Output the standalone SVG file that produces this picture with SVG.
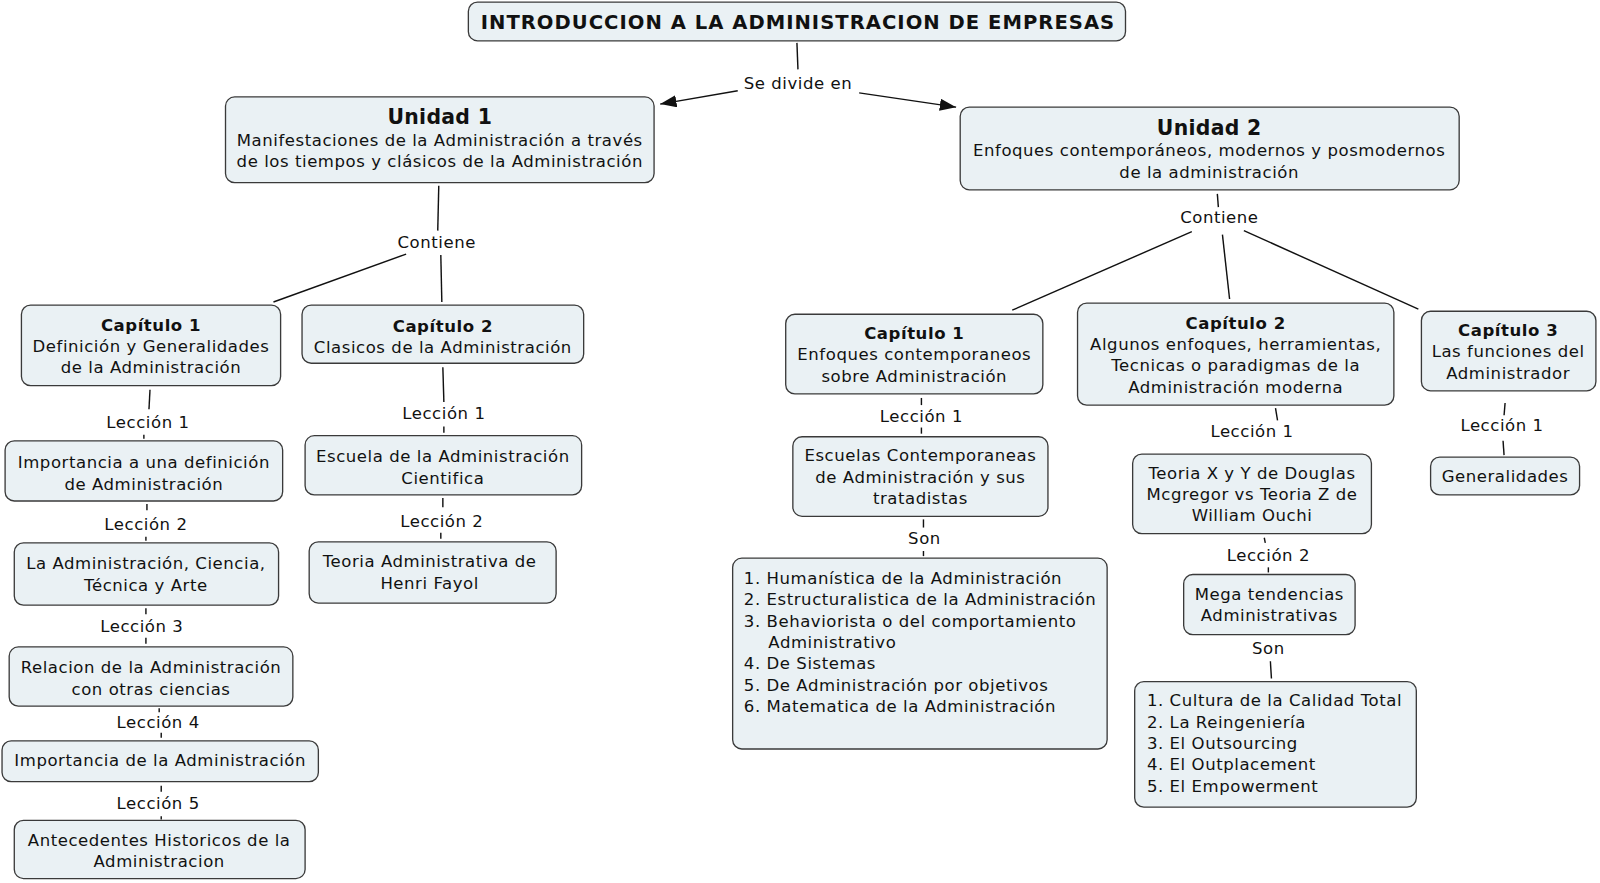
<svg xmlns="http://www.w3.org/2000/svg" width="1600" height="883" viewBox="0 0 1600 883">
<defs>
<style>
.n{fill:#eaf1f4;stroke:#3a3a3a;stroke-width:1.3}
text{font-family:"DejaVu Sans",Verdana,sans-serif;font-size:16.2px;letter-spacing:0.55px;fill:#111}
.c{text-anchor:middle}
.b{font-weight:bold}
.h{font-size:20px;font-weight:bold;letter-spacing:0.3px}
.t{font-size:19.2px;font-weight:bold;letter-spacing:1px}
.l{text-anchor:start}
.e line{stroke:#111;stroke-width:1.4}
</style>
<marker id="ar2" viewBox="0 0 16 12" refX="16" refY="6" markerWidth="16" markerHeight="12" markerUnits="userSpaceOnUse" orient="auto">
<path d="M0,0 L16,6 L0,12 z" fill="#111"/>
</marker>
</defs>
<rect width="1600" height="883" fill="#fff"/>
<g transform="scale(1.0204)">
<g class="e" id="connectors">
<line x1="781" y1="42" x2="782" y2="68"/>
<line x1="723" y1="89" x2="647" y2="102" marker-end="url(#ar2)"/>
<line x1="842" y1="91" x2="937" y2="105" marker-end="url(#ar2)"/>
<line x1="430" y1="182" x2="429" y2="226"/>
<line x1="432" y1="250" x2="433" y2="296"/>
<line x1="398" y1="249" x2="268" y2="296"/>
<line x1="1193" y1="190" x2="1194" y2="203"/>
<line x1="1168" y1="227" x2="992" y2="304"/>
<line x1="1198" y1="230" x2="1205" y2="293"/>
<line x1="1219" y1="226" x2="1390" y2="303"/>
<line x1="147" y1="382" x2="146" y2="401"/>
<line x1="141" y1="426" x2="141" y2="430"/>
<line x1="144" y1="494" x2="144" y2="500"/>
<line x1="143" y1="526" x2="143" y2="530"/>
<line x1="143" y1="596" x2="143" y2="602"/>
<line x1="143" y1="625" x2="143" y2="631"/>
<line x1="156" y1="694" x2="156" y2="698"/>
<line x1="158" y1="718" x2="158" y2="723"/>
<line x1="158" y1="770" x2="158" y2="776"/>
<line x1="158" y1="800" x2="158" y2="803"/>
<line x1="434" y1="360" x2="435" y2="394"/>
<line x1="435" y1="418" x2="435" y2="424"/>
<line x1="434" y1="488" x2="434" y2="497"/>
<line x1="432" y1="522" x2="432" y2="528"/>
<line x1="903" y1="390" x2="903" y2="397"/>
<line x1="903" y1="419" x2="903" y2="425"/>
<line x1="905" y1="509" x2="905" y2="517"/>
<line x1="905" y1="540" x2="905" y2="545"/>
<line x1="1250" y1="400" x2="1252" y2="412"/>
<line x1="1239" y1="527" x2="1240" y2="532"/>
<line x1="1243" y1="556" x2="1243" y2="561"/>
<line x1="1245" y1="648" x2="1246" y2="665"/>
<line x1="1475" y1="395" x2="1474" y2="407"/>
<line x1="1473" y1="432" x2="1474" y2="446"/>
</g>
<g id="title"><rect class="n" x="459" y="2" width="644" height="38" rx="9"/><text class="c t" x="782" y="28.5">INTRODUCCION A LA ADMINISTRACION DE EMPRESAS</text></g>
<g id="lbl-divide"><text class="c" x="782" y="87">Se divide en</text></g>
<g id="unidad1"><rect class="n" x="221" y="95" width="420" height="84" rx="9"/><text class="c h" x="431" y="122">Unidad 1</text><text class="c" x="431" y="143">Manifestaciones de la Administración a través</text><text class="c" x="431" y="164">de los tiempos y clásicos de la Administración</text></g>
<g id="unidad2"><rect class="n" x="941" y="105" width="489" height="81" rx="9"/><text class="c h" x="1185" y="132">Unidad 2</text><text class="c" x="1185" y="153">Enfoques contemporáneos, modernos y posmodernos</text><text class="c" x="1185" y="174">de la administración</text></g>
<g id="lbl-contiene1"><text class="c" x="428" y="243">Contiene</text></g>
<g id="lbl-contiene2"><text class="c" x="1195" y="219">Contiene</text></g>
<g id="cap1a"><rect class="n" x="21" y="299" width="254" height="79" rx="9"/><text class="c b" x="148" y="324">Capítulo 1</text><text class="c" x="148" y="345">Definición y Generalidades</text><text class="c" x="148" y="366">de la Administración</text></g>
<g id="cap2a"><rect class="n" x="296" y="299" width="276" height="57" rx="9"/><text class="c b" x="434" y="325">Capítulo 2</text><text class="c" x="434" y="346">Clasicos de la Administración</text></g>
<g id="l1a"><text class="c" x="145" y="419">Lección 1</text></g>
<g id="n-imp-def"><rect class="n" x="5" y="432" width="272" height="59" rx="9"/><text class="c" x="141" y="459">Importancia a una definición</text><text class="c" x="141" y="480">de Administración</text></g>
<g id="l2a"><text class="c" x="143" y="519">Lección 2</text></g>
<g id="n-ciencia"><rect class="n" x="14" y="532" width="259" height="61" rx="9"/><text class="c" x="143" y="558">La Administración, Ciencia,</text><text class="c" x="143" y="579">Técnica y Arte</text></g>
<g id="l3a"><text class="c" x="139" y="619">Lección 3</text></g>
<g id="n-relacion"><rect class="n" x="9" y="634" width="278" height="58" rx="9"/><text class="c" x="148" y="660">Relacion de la Administración</text><text class="c" x="148" y="681">con otras ciencias</text></g>
<g id="l4a"><text class="c" x="155" y="713">Lección 4</text></g>
<g id="n-importancia"><rect class="n" x="2" y="726" width="310" height="40" rx="9"/><text class="c" x="157" y="751">Importancia de la Administración</text></g>
<g id="l5a"><text class="c" x="155" y="793">Lección 5</text></g>
<g id="n-antecedentes"><rect class="n" x="14" y="804" width="285" height="57" rx="9"/><text class="c" x="156" y="829">Antecedentes Historicos de la</text><text class="c" x="156" y="850">Administracion</text></g>
<g id="l1b"><text class="c" x="435" y="411">Lección 1</text></g>
<g id="n-cientifica"><rect class="n" x="299" y="427" width="271" height="58" rx="9"/><text class="c" x="434" y="453">Escuela de la Administración</text><text class="c" x="434" y="474">Cientifica</text></g>
<g id="l2b"><text class="c" x="433" y="516">Lección 2</text></g>
<g id="n-fayol"><rect class="n" x="303" y="531" width="242" height="60" rx="9"/><text class="c" x="421" y="556">Teoria Administrativa de</text><text class="c" x="421" y="577">Henri Fayol</text></g>
<g id="cap1b"><rect class="n" x="770" y="308" width="252" height="78" rx="9"/><text class="c b" x="896" y="332">Capítulo 1</text><text class="c" x="896" y="353">Enfoques contemporaneos</text><text class="c" x="896" y="374">sobre Administración</text></g>
<g id="cap2b"><rect class="n" x="1056" y="297" width="310" height="100" rx="9"/><text class="c b" x="1211" y="322">Capítulo 2</text><text class="c" x="1211" y="343">Algunos enfoques, herramientas,</text><text class="c" x="1211" y="364">Tecnicas o paradigmas de la</text><text class="c" x="1211" y="385">Administración moderna</text></g>
<g id="cap3b"><rect class="n" x="1393" y="305" width="171" height="78" rx="9"/><text class="c b" x="1478" y="329">Capítulo 3</text><text class="c" x="1478" y="350">Las funciones del</text><text class="c" x="1478" y="371">Administrador</text></g>
<g id="l1c"><text class="c" x="903" y="414">Lección 1</text></g>
<g id="n-escuelas"><rect class="n" x="777" y="428" width="250" height="78" rx="9"/><text class="c" x="902" y="452">Escuelas Contemporaneas</text><text class="c" x="902" y="473">de Administración y sus</text><text class="c" x="902" y="494">tratadistas</text></g>
<g id="lbl-son1"><text class="c" x="906" y="533">Son</text></g>
<g id="n-lista1"><rect class="n" x="718" y="547" width="367" height="187" rx="9"/><text class="l" x="729" y="572">1. Humanística de la Administración</text><text class="l" x="729" y="593">2. Estructuralistica de la Administración</text><text class="l" x="729" y="614">3. Behaviorista o del comportamiento</text><text class="l" x="753" y="635">Administrativo</text><text class="l" x="729" y="656">4. De Sistemas</text><text class="l" x="729" y="677">5. De Administración por objetivos</text><text class="l" x="729" y="698">6. Matematica de la Administración</text></g>
<g id="l1d"><text class="c" x="1227" y="428">Lección 1</text></g>
<g id="n-teoria"><rect class="n" x="1110" y="445" width="234" height="78" rx="9"/><text class="c" x="1227" y="469">Teoria X y Y de Douglas</text><text class="c" x="1227" y="490">Mcgregor vs Teoria Z de</text><text class="c" x="1227" y="511">William Ouchi</text></g>
<g id="l2d"><text class="c" x="1243" y="550">Lección 2</text></g>
<g id="n-mega"><rect class="n" x="1160" y="563" width="168" height="59" rx="9"/><text class="c" x="1244" y="588">Mega tendencias</text><text class="c" x="1244" y="609">Administrativas</text></g>
<g id="lbl-son2"><text class="c" x="1243" y="641">Son</text></g>
<g id="n-lista2"><rect class="n" x="1112" y="668" width="276" height="123" rx="9"/><text class="l" x="1124" y="692">1. Cultura de la Calidad Total</text><text class="l" x="1124" y="713">2. La Reingeniería</text><text class="l" x="1124" y="734">3. El Outsourcing</text><text class="l" x="1124" y="755">4. El Outplacement</text><text class="l" x="1124" y="776">5. El Empowerment</text></g>
<g id="l1e"><text class="c" x="1472" y="422">Lección 1</text></g>
<g id="n-generalidades"><rect class="n" x="1402" y="448" width="146" height="37" rx="9"/><text class="c" x="1475" y="472">Generalidades</text></g>
</g>
</svg>
